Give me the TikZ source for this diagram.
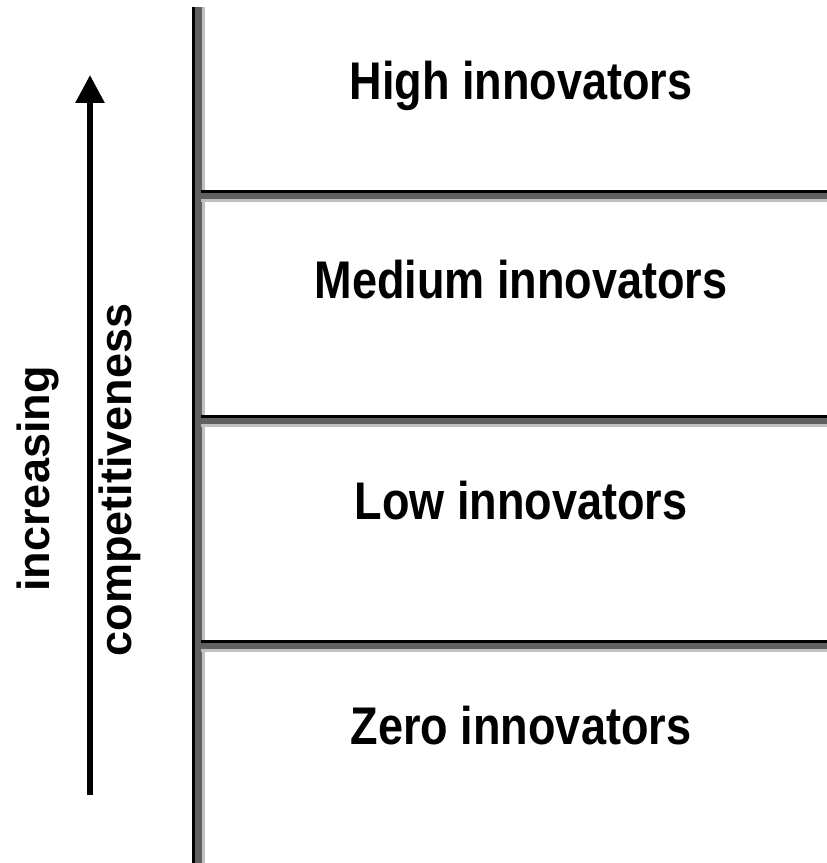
\documentclass[tikz,border=0pt]{standalone}
\usepackage{fontspec}
\setmainfont{Liberation Sans}
\usetikzlibrary{arrows.meta}
\definecolor{shadowdark}{HTML}{606060}
\definecolor{shadowlight}{HTML}{C0C0C0}
\begin{document}
\begin{tikzpicture}[x=1pt,y=1pt,
  bandlabel/.style={inner sep=0pt,anchor=base,font=\fontsize{53}{53}\selectfont\bfseries,xscale=0.85},
  sidelabel/.style={inner sep=0pt,anchor=base,rotate=90,font=\fontsize{45}{45}\selectfont\bfseries}]
\useasboundingbox (0,0) rectangle (827,863);
\fill[white] (0,0) rectangle (827,863);
% vertical axis line with shadow
\fill[black] (192,0) rectangle (195,856);
\fill[shadowdark] (195,0) rectangle (202,856);
\fill[shadowlight] (202,0) rectangle (205,856);
% horizontal separators with shadow
\foreach \yt in {673,448,223}{
  \fill[black] (201,\yt) rectangle (827,\yt-3);
  \fill[shadowdark] (201,\yt-3) rectangle (827,\yt-9);
  \fill[shadowlight] (201,\yt-9) rectangle (827,\yt-12);
}
% labels
\node[bandlabel] (high) at (521,763) {High innovators};
\node[bandlabel] (medium) at (521,564) {Medium innovators};
\node[bandlabel] (low) at (521,343) {Low innovators};
\node[bandlabel] (zero) at (521,118) {Zero innovators};
\node[sidelabel] (inc) at (49,384) {increasing};
\node[sidelabel] (comp) at (131,383) {competitiveness};
% arrow
\coordinate (abot) at (90,68);
\coordinate (atop) at (90,788);
\draw[line width=6pt,-{Triangle[length=28pt,width=28pt]}] (abot) -- (atop);
\end{tikzpicture}
\end{document}
